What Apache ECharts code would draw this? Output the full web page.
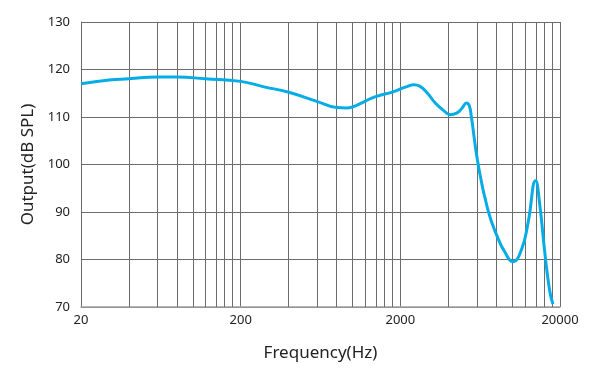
<!DOCTYPE html>
<html>
<head>
<meta charset="utf-8">
<script src="https://cdn.jsdelivr.net/npm/echarts@6/dist/echarts.min.js"></script>
<style>
html,body{margin:0;padding:0;background:#fff;}
#chart{width:595px;height:388px;}
</style>
</head>
<body>
<div id="chart"></div>
<script>
// Frequency response data
const freqHz = [20, 30, 40, 60, 80, 120, 200, 276, 400, 600, 800, 920, 1000, 1200, 1400, 1800, 2000, 2200, 2423, 2643, 2977, 3300, 3700, 4100, 4500, 4850, 5200, 5400, 5568, 6124, 7070, 8170, 9000, 10140, 11450, 12600, 14070, 14900, 16000, 17200, 18070];
const outputDb = [117.0, 117.8, 118.05, 118.4, 118.4, 118.05, 117.5, 116.4, 115.2, 113.3, 112.0, 111.9, 112.1, 113.3, 114.3, 115.3, 115.9, 116.4, 116.8, 116.5, 114.9, 113.0, 111.5, 110.5, 110.8, 111.8, 112.95, 112.4, 110.1, 100.3, 90.45, 84.5, 81.65, 79.55, 82.0, 87.6, 96.6, 91.85, 82.0, 73.6, 70.6];
const xTickLabels = ['20', '200', '2000', '20000'];
const minorGridHz = [40, 60, 80, 100, 120, 140, 160, 180,
                     400, 600, 800, 1000, 1200, 1400, 1600, 1800,
                     4000, 6000, 8000, 10000, 12000, 14000, 16000, 18000];
const yMin = 70, yMax = 130, yStep = 10;

// x position on the axis: log10(f/2) -> 20Hz = 1, 20000Hz = 4
const toX = f => Math.log10(f / 2);

const chart = echarts.init(document.getElementById('chart'), null, {renderer: 'canvas'});
const font = '"Noto Sans", "Open Sans", sans-serif';
const gridColor = '#6c6c6c';

chart.setOption({
  animation: false,
  grid: {left: 81, right: 35, top: 22, bottom: 81, containLabel: false},
  xAxis: {
    type: 'value',
    min: 1, max: 4, interval: 1,
    name: 'Frequency(Hz)',
    nameLocation: 'middle',
    nameGap: 38,
    nameTextStyle: {fontFamily: font, fontSize: 17, color: '#222'},
    axisLine: {show: true, lineStyle: {color: '#a0a0a0', width: 1.5}},
    axisTick: {show: false},
    axisLabel: {
      fontFamily: font, fontSize: 13, color: '#222', margin: 7,
      formatter: v => xTickLabels[Math.round(v) - 1] || ''
    },
    splitLine: {show: true, lineStyle: {color: gridColor, width: 1}}
  },
  yAxis: {
    type: 'value',
    min: yMin, max: yMax, interval: yStep,
    name: 'Output(dB SPL)',
    nameLocation: 'middle',
    nameGap: 44,
    nameTextStyle: {fontFamily: font, fontSize: 17, color: '#222'},
    axisLine: {show: true, lineStyle: {color: gridColor, width: 1}},
    axisTick: {show: false},
    axisLabel: {fontFamily: font, fontSize: 13, color: '#222', margin: 11},
    splitLine: {show: true, lineStyle: {color: gridColor, width: 1}}
  },
  series: [
    {
      type: 'line',
      z: 1,
      data: [],
      silent: true,
      markLine: {
        silent: true,
        symbol: ['none', 'none'],
        label: {show: false},
        lineStyle: {type: 'solid', color: gridColor, width: 1},
        emphasis: {disabled: true},
        data: minorGridHz.map(f => ({xAxis: toX(f)}))
      }
    },
    {
      type: 'line',
      z: 5,
      data: freqHz.map((f, i) => [toX(f), outputDb[i]]),
      showSymbol: false,
      smooth: 0.5,
      lineStyle: {color: '#06ace6', width: 3}
    }
  ]
});
</script>
</body>
</html>
